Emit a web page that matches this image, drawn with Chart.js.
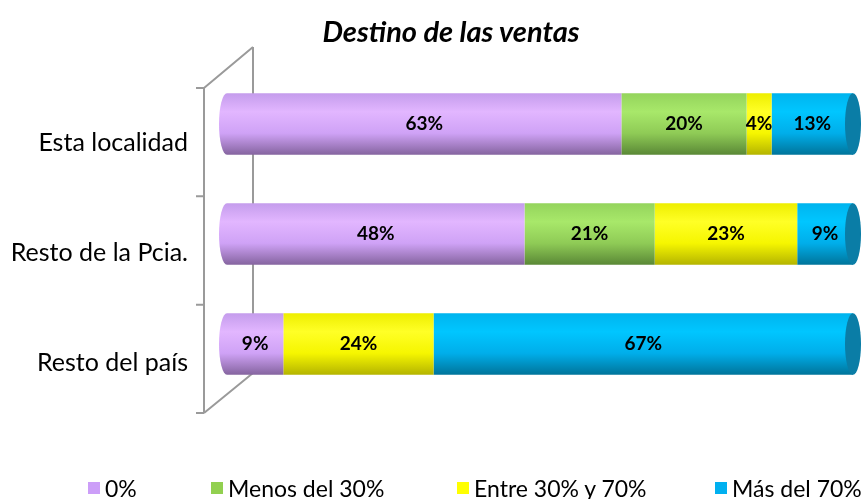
<!DOCTYPE html>
<html>
<head>
<meta charset="utf-8">
<script src="https://cdn.jsdelivr.net/npm/chart.js@4/dist/chart.umd.min.js"></script>
<style>
  body { margin: 0; background: #fff; }
  #wrap { position: relative; width: 861px; height: 499px; }
  #title { position: absolute; left: 151px; width: 600px; top: 13px; line-height: 34px; text-align: center;
           font: italic bold 29px Lato, sans-serif; color: #000; }
  .leg { position: absolute; top: 474px; font: 23px Lato, sans-serif; color: #000; white-space: nowrap; display: flex; align-items: center; }
  .leg i { display: inline-block; width: 12px; height: 12px; margin-right: 5px; }
</style>
</head>
<body>
<div id="wrap">
  <canvas id="chart" width="861" height="499"></canvas>
  <div id="title">Destino de las ventas</div>
  <div class="leg" style="left:88px"><i style="background:#CC9EF8"></i>0%</div>
  <div class="leg" style="left:211px"><i style="background:#92D050"></i>Menos del 30%</div>
  <div class="leg" style="left:457px"><i style="background:#FFFF00"></i>Entre 30% y 70%</div>
  <div class="leg" style="left:715px"><i style="background:#00B0F0"></i>Más del 70%</div>
</div>
<script>
// Categories and series (percent values as shown on the chart)
const categories = ["Esta localidad", "Resto de la Pcia.", "Resto del país"];
const seriesNames = ["0%", "Menos del 30%", "Entre 30% y 70%", "Más del 70%"];
const valsCero = [63, 48, 9];
const valsMenos30 = [20, 21, 0];
const valsEntre = [4, 23, 24];
const valsMas70 = [13, 9, 67];

const allVals = [valsCero, valsMenos30, valsEntre, valsMas70];
// row totals, so each bar fills 100%
const rowTotals = categories.map((c, i) => allVals.reduce((s, v) => s + v[i], 0));

// vertical gradient stops for the cylinder look
const gradStops = [
  ["#C49CEC", "#E2B6FF", "#CFA2F6", "#85649F"],
  ["#94D45C", "#A8E86A", "#8FCB56", "#5A8836"],
  ["#EEEE00", "#FFFF26", "#F6F600", "#B4B400"],
  ["#00B4EE", "#00C6FF", "#00AEEA", "#00749A"]
];

const BAR_PCT = 0.56;

function barFill(context, di) {
  const chart = context.chart;
  const yScale = chart.scales.y;
  if (!yScale || !chart.chartArea) return gradStops[di][1];
  const band = (chart.chartArea.bottom - chart.chartArea.top) / categories.length;
  const half = band * BAR_PCT / 2;
  const yc = yScale.getPixelForValue(context.dataIndex);
  const g = chart.ctx.createLinearGradient(0, yc - half, 0, yc + half);
  const s = gradStops[di];
  g.addColorStop(0, s[0]);
  g.addColorStop(0.3, s[1]);
  g.addColorStop(0.65, s[2]);
  g.addColorStop(1, s[3]);
  return g;
}

// 3D-style wall at the left of the bars
const wallPlugin = {
  id: "wall",
  beforeDatasetsDraw(chart) {
    const { ctx, chartArea } = chart;
    const fx = chartArea.left - 23, bx = chartArea.left + 26;
    const fTop = chartArea.top + 19, fBot = chartArea.bottom + 14;
    const bTop = chartArea.top - 22, bBot = chartArea.bottom - 26;
    ctx.save();
    ctx.strokeStyle = "#9a9a9a";
    ctx.lineWidth = 2;
    ctx.beginPath();
    ctx.moveTo(fx, fTop); ctx.lineTo(fx, fBot);
    ctx.moveTo(bx, bTop); ctx.lineTo(bx, bBot);
    ctx.moveTo(fx, fTop); ctx.lineTo(bx, bTop);
    ctx.moveTo(fx, fBot); ctx.lineTo(bx, bBot);
    const n = categories.length;
    for (let k = 0; k <= n; k++) {
      const y = fTop + (fBot - fTop) * k / n;
      ctx.moveTo(fx - 8, y); ctx.lineTo(fx, y);
    }
    ctx.stroke();
    ctx.restore();
  }
};

// rounded ends of each cylinder
const capPlugin = {
  id: "caps",
  afterDatasetsDraw(chart) {
    const ctx = chart.ctx;
    ctx.save();
    categories.forEach((c, i) => {
      const used = allVals.map((v, di) => di).filter(di => allVals[di][i] > 0);
      const first = chart.getDatasetMeta(used[0]).data[i];
      const last = chart.getDatasetMeta(used[used.length - 1]).data[i];
      const ry = first.height / 2;
      // left bulge
      ctx.beginPath();
      ctx.ellipse(first.base, first.y, 8, ry, 0, Math.PI / 2, Math.PI * 1.5);
      ctx.closePath();
      ctx.fillStyle = first.options.backgroundColor;
      ctx.fill();
      // right face
      ctx.beginPath();
      ctx.ellipse(last.x, last.y, 8, ry, 0, 0, Math.PI * 2);
      ctx.fillStyle = "#0A7DA6";
      ctx.fill();
    });
    ctx.restore();
  }
};

const labelPlugin = {
  id: "segLabels",
  afterDatasetsDraw(chart) {
    const ctx = chart.ctx;
    ctx.save();
    ctx.font = "bold 19px Lato, sans-serif";
    ctx.fillStyle = "#000";
    ctx.textAlign = "center";
    ctx.textBaseline = "middle";
    allVals.forEach((vals, di) => {
      chart.getDatasetMeta(di).data.forEach((el, i) => {
        if (!vals[i]) return;
        const p = el.getCenterPoint();
        ctx.fillText(vals[i] + "%", p.x, p.y);
      });
    });
    ctx.restore();
  }
};

window.onload = function () {
  new Chart(document.getElementById("chart"), {
    type: "bar",
    data: {
      labels: categories,
      datasets: allVals.map((vals, di) => ({
        label: seriesNames[di],
        data: vals.map((v, i) => v / rowTotals[i] * 100),
        backgroundColor: ctx => barFill(ctx, di),
        borderWidth: 0,
        barPercentage: BAR_PCT,
        categoryPercentage: 1
      }))
    },
    options: {
      indexAxis: "y",
      responsive: false,
      animation: false,
      layout: { padding: { top: 69, right: 8, bottom: 100, left: 0 } },
      plugins: {
        legend: { display: false },
        tooltip: { enabled: false },
        title: { display: false }
      },
      scales: {
        x: { stacked: true, min: 0, max: 100, display: false },
        y: {
          stacked: true,
          grid: { display: false },
          border: { display: false },
          afterFit: s => { s.width = 227; },
          ticks: {
            color: "#000",
            font: { family: "Lato", size: 25 },
            padding: 31,
            labelOffset: 19
          }
        }
      }
    },
    plugins: [wallPlugin, capPlugin, labelPlugin]
  });
};
</script>
</body>
</html>
